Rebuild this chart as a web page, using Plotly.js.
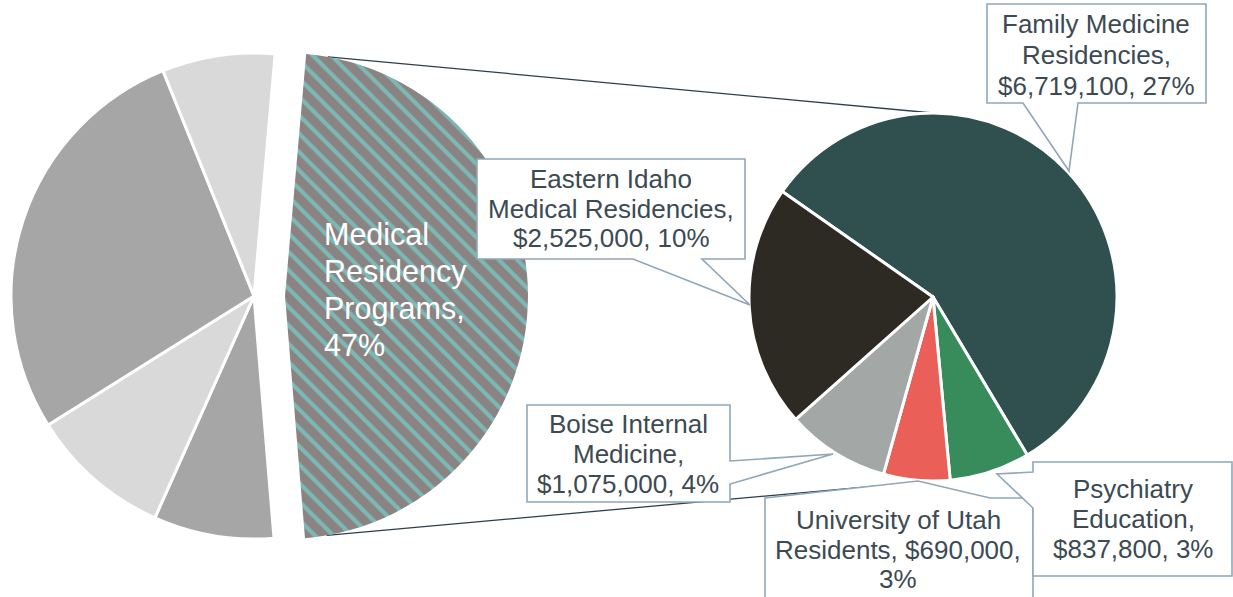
<!DOCTYPE html>
<html><head><meta charset="utf-8">
<script src="https://cdn.plot.ly/plotly-3.0.1.min.js"></script>
<style>html,body{margin:0;padding:0;background:#fff;overflow:hidden}</style>
</head><body>
<div id="chart" style="width:1233px;height:597px"></div>
<script>
// ---------- data ----------
const leftLabels = ['Medical Residency Programs', 'Other program 1', 'Other program 2', 'Other program 3', 'Other program 4'];
const leftValues = [47.3, 8.0, 9.4, 27.8, 7.5];          // share of total, %
const leftShownPct = [47];                               // label of the split slice
const rightLabels = ['Family Medicine Residencies', 'Psychiatry Education', 'University of Utah Residents', 'Boise Internal Medicine', 'Eastern Idaho Medical Residencies'];
const rightValues = [6719100, 837800, 690000, 1075000, 2525000];
const rightPct = [27, 3, 3, 4, 10];

// ---------- styling / layout ----------
const W = 1233, H = 597;
const FONT = 'Liberation Sans, Arial, Helvetica, sans-serif';
const TXT = '#3c4a54';
const BOX = '#8fa7b9';
const leftColors = ['#7bb9b6', '#a6a6a6', '#d9d9d9', '#a6a6a6', '#d9d9d9'];
const hatchBg = '#8b8381';
const rightColors = ['#2f504f', '#388c5c', '#ea5f57', '#a3a7a5', '#2d2923'];
const T = 'rgba(0,0,0,0)';

const L = {cx: 254, cy: 296, r: 243, shift: 31, rot: 5};
const R = {cx: 933, cy: 297, r: 184, rot: 305};

const px = x => x / W, py = y => 1 - y / H;
const dom = (cx, cy, r) => ({x: [px(cx - r), px(cx + r)], y: [py(cy + r), py(cy - r)]});
const path = pts => 'M' + pts.map(p => px(p[0]).toFixed(5) + ',' + py(p[1]).toFixed(5)).join(' L') + ' Z';

const restSum = leftValues.slice(1).reduce((a, b) => a + b, 0);

const traces = [
  { // hatched split slice (drawn shifted right)
    type: 'pie', values: [leftValues[0], restSum], labels: [leftLabels[0], 'rest'],
    sort: false, direction: 'clockwise', rotation: L.rot,
    domain: dom(L.cx + L.shift, L.cy, L.r),
    marker: {colors: [leftColors[0], T], line: {color: 'white', width: [0, 0]},
      pattern: {shape: ['\\', ''], bgcolor: [hatchBg, T], fgcolor: [leftColors[0], T], size: [13, 13], solidity: [0.32, 0.32]}},
    textinfo: 'none', hoverinfo: 'skip'
  },
  { // rest of the first pie
    type: 'pie', values: leftValues, labels: leftLabels,
    sort: false, direction: 'clockwise', rotation: L.rot,
    domain: dom(L.cx, L.cy, L.r),
    marker: {colors: [T].concat(leftColors.slice(1)), line: {color: 'white', width: [0, 3, 3, 3, 3]}},
    textinfo: 'none', hoverinfo: 'label+percent'
  },
  { // second pie (breakdown)
    type: 'pie', values: rightValues, labels: rightLabels,
    sort: false, direction: 'clockwise', rotation: R.rot,
    domain: dom(R.cx, R.cy, R.r),
    marker: {colors: rightColors, line: {color: 'white', width: 3}},
    textinfo: 'none', hoverinfo: 'label+value'
  }
];

// label texts from data, wrapped by words-per-line
const fmt = v => '$' + v.toLocaleString('en-US');
const wrap = (s, counts) => { const w = s.split(' '); const out = []; let i = 0; counts.forEach(c => { out.push(w.slice(i, i + c).join(' ')); i += c; }); return out; };
const labelPos = [
  {cx: 1096, y: 24, dy: 31, wrap: [2, 1, 2]},
  {cx: 1133, y: 489, dy: 30, wrap: [1, 1, 2]},
  {cx: 898, y: 520, dy: 29.5, wrap: [3, 2, 1]},
  {cx: 628, y: 424, dy: 30, wrap: [2, 1, 2]},
  {cx: 611, y: 179, dy: 29.5, wrap: [2, 2, 2]}
];
const annotations = [];
rightLabels.forEach((name, i) => {
  const lines = wrap(name + ', ' + fmt(rightValues[i]) + ', ' + rightPct[i] + '%', labelPos[i].wrap);
  lines.forEach((t, k) => annotations.push({
    x: px(labelPos[i].cx), y: py(labelPos[i].y + k * labelPos[i].dy), xref: 'paper', yref: 'paper',
    text: t, showarrow: false, xanchor: 'center', yanchor: 'middle',
    font: {family: FONT, size: 26, color: TXT}
  }));
});
wrap(leftLabels[0] + ', ' + leftShownPct[0] + '%', [1, 1, 1, 1]).forEach((t, k) => annotations.push({
  x: px(322), y: py(234 + k * 37), xref: 'paper', yref: 'paper', text: t, showarrow: false,
  xanchor: 'left', yanchor: 'middle', font: {family: FONT, size: 30.5, color: 'white'}
}));

// callout boxes
const callouts = [
  [[987, 4], [1206, 4], [1206, 103], [1078, 103], [1069, 171], [1023, 103], [987, 103]],
  [[477, 159], [745, 159], [745, 259], [702, 259], [750, 305], [633, 259], [477, 259]],
  [[527, 405], [730, 405], [730, 461], [833, 454], [730, 484], [730, 502], [527, 502]],
  [[765, 498], [918, 481], [990, 498], [1033, 498], [1033, 640], [765, 640]],
  [[1033, 462], [1232, 462], [1232, 576], [1033, 576], [1033, 508], [997, 474], [1033, 472]]
];
const shapes = callouts.map(p => ({type: 'path', xref: 'paper', yref: 'paper', path: path(p),
  fillcolor: 'white', line: {color: BOX, width: 1.6}, layer: 'above'}));

// connector lines: from the split slice tips to top/bottom of the second pie
const a0 = L.rot * Math.PI / 180, a1 = (L.rot + leftValues[0] / 100 * 360) * Math.PI / 180;
const hx = L.cx + L.shift;
const tipTop = [hx + L.r * Math.sin(a0 + 0.09), L.cy - L.r * Math.cos(a0 + 0.09)];
const tipBot = [hx + L.r * Math.sin(a1 - 0.09), L.cy - L.r * Math.cos(a1 - 0.09)];
[[tipTop, [R.cx, R.cy - R.r]], [tipBot, [R.cx, R.cy + R.r]]].forEach(([p, q]) => shapes.push({
  type: 'line', xref: 'paper', yref: 'paper', x0: px(p[0]), y0: py(p[1]), x1: px(q[0]), y1: py(q[1]),
  line: {color: '#2d3e48', width: 1.3}, layer: 'below'
}));

const layout = {
  width: W, height: H, margin: {l: 0, r: 0, t: 0, b: 0},
  paper_bgcolor: 'white', showlegend: false, font: {family: FONT},
  annotations, shapes
};
Plotly.newPlot('chart', traces, layout, {displayModeBar: false, staticPlot: true});
</script>
</body></html>
